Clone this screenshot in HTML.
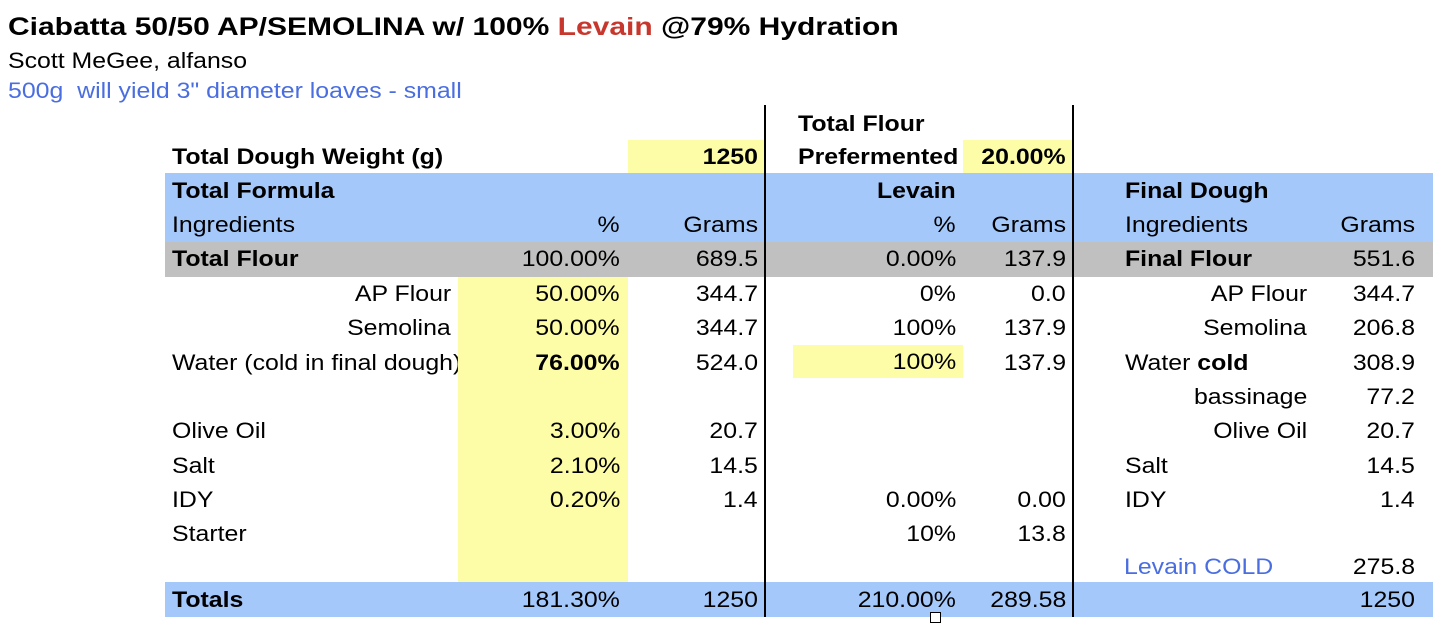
<!DOCTYPE html>
<html><head><meta charset="utf-8"><style>
body{margin:0;width:1452px;height:634px;background:#fff;position:relative;overflow:hidden;font-family:"Liberation Sans",Arial,sans-serif;color:#000}
.c{position:absolute;height:34px;line-height:34px;font-size:22px;white-space:nowrap;transform:scaleX(1.13);transform-origin:left center}
.c[style*="right:"]{transform-origin:right center}
.b{font-weight:bold}
.bg{position:absolute}
.v{position:absolute;width:2px;background:#000;top:105px;height:512px}
</style></head><body>
<div class="c b" style="left:8px;top:10px;font-size:25px;transform:scaleX(1.2)">Ciabatta 50/50 AP/SEMOLINA w/ 100% <span style="color:#c8372d">Levain</span> @79% Hydration</div>
<div class="c" style="left:8px;top:44px">Scott MeGee, alfanso</div>
<div class="c" style="left:8px;top:74px;color:#4a6ee0">500g&nbsp; will yield 3" diameter loaves - small</div>

<div class="bg" style="left:628px;top:140px;width:136px;height:33px;background:#fdfca7"></div>
<div class="bg" style="left:963px;top:140px;width:110px;height:33px;background:#fdfca7"></div>
<div class="bg" style="left:165px;top:173px;width:1268px;height:69px;background:#a4c8fa"></div>
<div class="bg" style="left:165px;top:242px;width:1268px;height:35px;background:#c0c0c0"></div>
<div class="bg" style="left:458px;top:277px;width:170px;height:305px;background:#fdfca7"></div>
<div class="bg" style="left:793px;top:345px;width:170px;height:33px;background:#fdfca7"></div>
<div class="bg" style="left:165px;top:582px;width:1268px;height:35px;background:#a4c8fa"></div>
<div class="v" style="left:764px"></div>
<div class="v" style="left:1072px"></div>
<div class="bg" style="left:930px;top:612px;width:9px;height:9px;border:1px solid #000;background:#fff"></div>

<div class="c b" style="left:798px;top:107px">Total Flour</div>
<div class="c b" style="left:172px;top:140px">Total Dough Weight (g)</div>
<div class="c b" style="right:694px;top:140px">1250</div>
<div class="c b" style="left:798px;top:140px">Prefermented</div>
<div class="c b" style="right:386px;top:140px">20.00%</div>

<div class="c b" style="left:172px;top:174px">Total Formula</div>
<div class="c b" style="right:496px;top:174px">Levain</div>
<div class="c b" style="left:1125px;top:174px">Final Dough</div>

<div class="c" style="left:172px;top:208px">Ingredients</div>
<div class="c" style="right:832px;top:208px">%</div>
<div class="c" style="right:694px;top:208px">Grams</div>
<div class="c" style="right:496px;top:208px">%</div>
<div class="c" style="right:386px;top:208px">Grams</div>
<div class="c" style="left:1125px;top:208px">Ingredients</div>
<div class="c" style="right:37px;top:208px">Grams</div>

<div class="c b" style="left:172px;top:242px">Total Flour</div>
<div class="c" style="right:832px;top:242px">100.00%</div>
<div class="c" style="right:694px;top:242px">689.5</div>
<div class="c" style="right:496px;top:242px">0.00%</div>
<div class="c" style="right:386px;top:242px">137.9</div>
<div class="c b" style="left:1125px;top:242px">Final Flour</div>
<div class="c" style="right:37px;top:242px">551.6</div>

<div class="c" style="right:1001px;top:277px">AP Flour</div>
<div class="c" style="right:832px;top:277px">50.00%</div>
<div class="c" style="right:694px;top:277px">344.7</div>
<div class="c" style="right:496px;top:277px">0%</div>
<div class="c" style="right:386px;top:277px">0.0</div>
<div class="c" style="right:145px;top:277px">AP Flour</div>
<div class="c" style="right:37px;top:277px">344.7</div>

<div class="c" style="right:1001px;top:311px">Semolina</div>
<div class="c" style="right:832px;top:311px">50.00%</div>
<div class="c" style="right:694px;top:311px">344.7</div>
<div class="c" style="right:496px;top:311px">100%</div>
<div class="c" style="right:386px;top:311px">137.9</div>
<div class="c" style="right:145px;top:311px">Semolina</div>
<div class="c" style="right:37px;top:311px">206.8</div>

<div class="c" style="left:172px;top:346px;width:253px;overflow:hidden">Water (cold in final dough)</div>
<div class="c b" style="right:832px;top:346px">76.00%</div>
<div class="c" style="right:694px;top:346px">524.0</div>
<div class="c" style="right:496px;top:345px">100%</div>
<div class="c" style="right:386px;top:346px">137.9</div>
<div class="c" style="left:1125px;top:346px">Water <b>cold</b></div>
<div class="c" style="right:37px;top:346px">308.9</div>

<div class="c" style="right:145px;top:380px">bassinage</div>
<div class="c" style="right:37px;top:380px">77.2</div>

<div class="c" style="left:172px;top:414px">Olive Oil</div>
<div class="c" style="right:832px;top:414px">3.00%</div>
<div class="c" style="right:694px;top:414px">20.7</div>
<div class="c" style="right:145px;top:414px">Olive Oil</div>
<div class="c" style="right:37px;top:414px">20.7</div>

<div class="c" style="left:172px;top:449px">Salt</div>
<div class="c" style="right:832px;top:449px">2.10%</div>
<div class="c" style="right:694px;top:449px">14.5</div>
<div class="c" style="left:1125px;top:449px">Salt</div>
<div class="c" style="right:37px;top:449px">14.5</div>

<div class="c" style="left:172px;top:483px">IDY</div>
<div class="c" style="right:832px;top:483px">0.20%</div>
<div class="c" style="right:694px;top:483px">1.4</div>
<div class="c" style="right:496px;top:483px">0.00%</div>
<div class="c" style="right:386px;top:483px">0.00</div>
<div class="c" style="left:1125px;top:483px">IDY</div>
<div class="c" style="right:37px;top:483px">1.4</div>

<div class="c" style="left:172px;top:517px">Starter</div>
<div class="c" style="right:496px;top:517px">10%</div>
<div class="c" style="right:386px;top:517px">13.8</div>

<div class="c" style="left:1124px;top:550px;color:#4a6ee0">Levain COLD</div>
<div class="c" style="right:37px;top:550px">275.8</div>

<div class="c b" style="left:172px;top:583px">Totals</div>
<div class="c" style="right:832px;top:583px">181.30%</div>
<div class="c" style="right:694px;top:583px">1250</div>
<div class="c" style="right:496px;top:583px">210.00%</div>
<div class="c" style="right:386px;top:583px">289.58</div>
<div class="c" style="right:37px;top:583px">1250</div>
</body></html>
